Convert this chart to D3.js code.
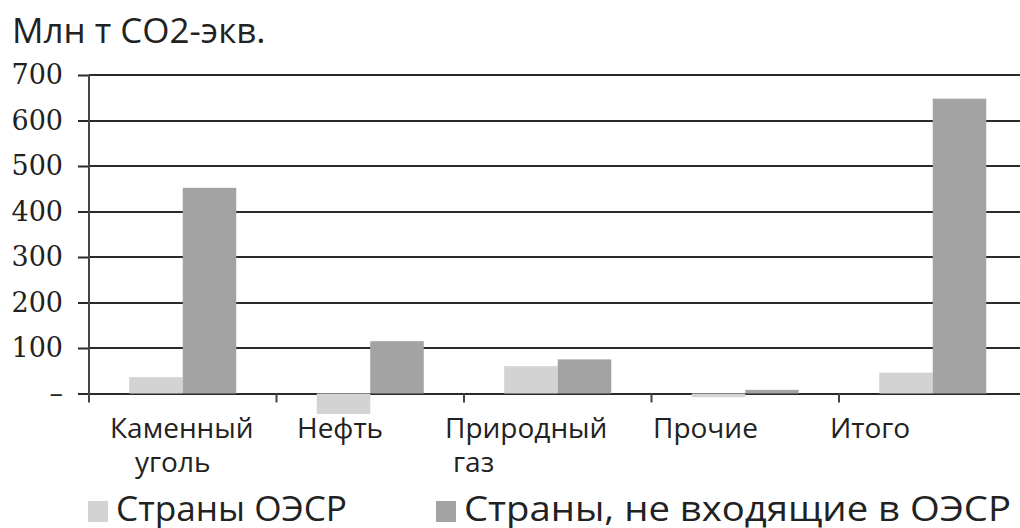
<!DOCTYPE html>
<html>
<head>
	<meta charset="utf-8">
	<title>Выбросы CO2</title>
	<script src="https://cdn.jsdelivr.net/npm/d3@7"></script>
	<style>
		body { margin: 0; background: #fff; }
		svg text { fill: #222; }
		.cat, .legend, .title { font-family: "Open Sans", "Noto Sans", sans-serif; }
	</style>
</head>
<body>
	<script>
		// Data
		var categories = ["Каменный уголь", "Нефть", "Природный газ", "Прочие", "Итого"];
		var seriesNames = ["Страны ОЭСР", "Страны, не входящие в ОЭСР"];
		var oecd = [36, -45, 60, -8, 46];
		var nonOecd = [452, 115, 75, 8, 648];
		var yTicks = [0, 100, 200, 300, 400, 500, 600, 700];

		var colors = ["#d3d3d3", "#a3a3a3"];
		// label nudges (layout, px from band start) - labels in the source are not centred
		var labelDx = [21, 20.5, -19, 1.5, -9];
		var line2Dx = [25, 0, 8, 0, 0];
		var legendX = [88, 436];
		var legendLen = [231, 547];

		var width = 1020, height = 528;
		var plotLeft = 89, plotTop = 75, zeroY = 393.5, step = 187.5;

		var svg = d3.select("body").append("svg")
			.attr("width", width)
			.attr("height", height);

		var x0 = d3.scaleBand().domain(categories).range([plotLeft, plotLeft + 5 * step]);
		var x1 = d3.scaleBand().domain([0, 1]).range([0, x0.bandwidth()]).paddingOuter(0.752);
		var y = d3.scaleLinear().domain([0, 700]).range([zeroY, plotTop]);

		// title
		svg.append("text").attr("class", "title")
			.attr("x", 12).attr("y", 43)
			.attr("font-size", "35px")
			.text("Млн т CO2-экв.");

		// gridlines
		svg.selectAll("line.grid").data(yTicks).enter().append("line")
			.attr("class", "grid")
			.attr("x1", plotLeft).attr("x2", width)
			.attr("y1", function(d) { return Math.round(y(d)); })
			.attr("y2", function(d) { return Math.round(y(d)); })
			.attr("stroke", "#2a2a2a")
			.attr("stroke-width", 2);

		// bars
		var rows = categories.map(function(c, i) { return [oecd[i], nonOecd[i]]; });
		var groups = svg.selectAll("g.cat-group").data(rows).enter().append("g")
			.attr("transform", function(d, i) { return "translate(" + x0(categories[i]) + ",0)"; });
		groups.selectAll("rect").data(function(d) { return d; }).enter().append("rect")
			.attr("x", function(d, j) { return x1(j); })
			.attr("width", x1.bandwidth())
			.attr("y", function(d) { return y(Math.max(0, d)); })
			.attr("height", function(d) { return Math.abs(y(d) - y(0)); })
			.attr("fill", function(d, j) { return colors[j]; });

		// y axis
		var yAxis = d3.axisLeft(y).tickValues(yTicks).tickSize(11).tickPadding(15)
			.tickFormat(function(d) { return d === 0 ? "–" : d; });
		var ga = svg.append("g").attr("transform", "translate(" + plotLeft + ",0)").call(yAxis);
		ga.select(".domain").remove();
		ga.selectAll("line").attr("stroke", "#2a2a2a").attr("stroke-width", 2);
		ga.selectAll("text")
			.attr("fill", "#222")
			.style("font-family", "'DejaVu Serif', 'Liberation Serif', serif")
			.style("font-size", "27px");
		ga.append("line").attr("x1", 0).attr("x2", 0).attr("y1", plotTop).attr("y2", zeroY + 8)
			.attr("stroke", "#444").attr("stroke-width", 2);

		// category ticks
		svg.selectAll("line.xtick").data(categories).enter().append("line")
			.attr("x1", function(d) { return x0(d); })
			.attr("x2", function(d) { return x0(d); })
			.attr("y1", zeroY).attr("y2", zeroY + 9)
			.attr("stroke", "#444").attr("stroke-width", 2);

		// category labels
		var lab = svg.selectAll("text.cat").data(categories).enter().append("text")
			.attr("class", "cat")
			.attr("font-size", "28px")
			.attr("x", function(d, i) { return x0(d) + labelDx[i]; })
			.attr("y", 438);
		lab.each(function(d, i) {
			var words = d.split(" ");
			var t = d3.select(this);
			t.append("tspan").text(words[0]);
			if (words.length > 1) {
				t.append("tspan")
					.attr("x", x0(d) + labelDx[i] + line2Dx[i])
					.attr("dy", 34)
					.text(words.slice(1).join(" "));
			}
		});

		// legend
		var lg = svg.selectAll("g.legend").data(seriesNames).enter().append("g")
			.attr("class", "legend")
			.attr("transform", function(d, i) { return "translate(" + legendX[i] + ",0)"; });
		lg.append("rect").attr("x", 0).attr("y", 501).attr("width", 20).attr("height", 21)
			.attr("fill", function(d, i) { return colors[i]; });
		lg.append("text").attr("x", 28).attr("y", 521)
			.attr("font-size", "35px")
			.attr("textLength", function(d, i) { return legendLen[i]; })
			.attr("lengthAdjust", "spacingAndGlyphs")
			.text(function(d) { return d; });
	</script>
</body>
</html>
